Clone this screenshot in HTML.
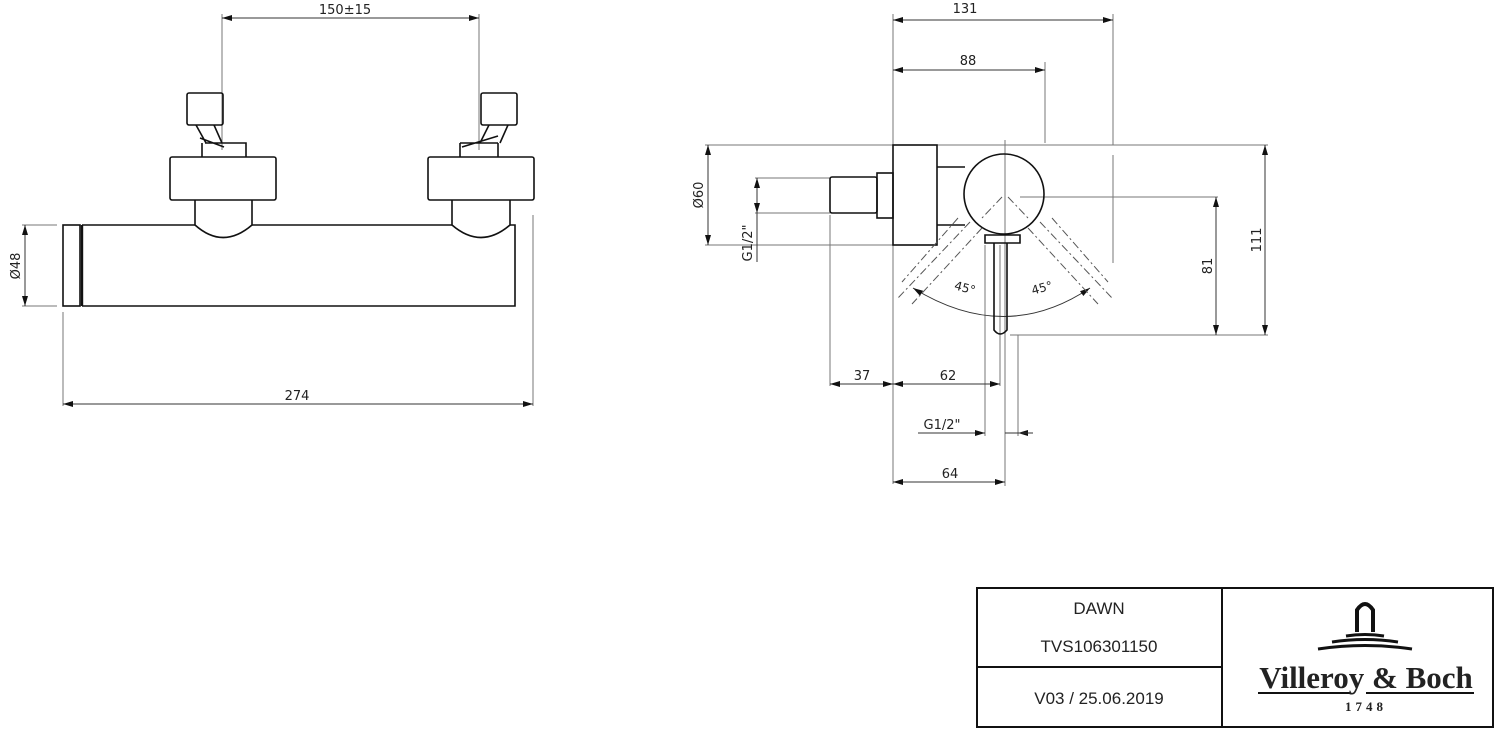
<!DOCTYPE html>
<html><head><meta charset="utf-8"><style>
html,body{margin:0;padding:0;background:#fff;}
svg{display:block;}
text{font-family:"DejaVu Sans","Liberation Sans",sans-serif;fill:#222;}
</style></head><body>
<svg width="1500" height="735" viewBox="0 0 1500 735" xmlns="http://www.w3.org/2000/svg">
<defs>
<marker id="a" viewBox="0 0 10 6" refX="10" refY="3" markerWidth="12" markerHeight="6" orient="auto-start-reverse" markerUnits="userSpaceOnUse"><path d="M0,0L10,3L0,6z" fill="#111"/></marker>
</defs>
<g stroke="#333" stroke-width="1" fill="none">
<line x1="222" y1="14" x2="222" y2="150" stroke="#777"/>
<line x1="479" y1="14" x2="479" y2="150" stroke="#777"/>
<line x1="222" y1="18" x2="479" y2="18" marker-start="url(#a)" marker-end="url(#a)"/>
<line x1="22" y1="225" x2="57" y2="225" stroke="#777"/>
<line x1="22" y1="306" x2="57" y2="306" stroke="#777"/>
<line x1="25" y1="225" x2="25" y2="306" marker-start="url(#a)" marker-end="url(#a)"/>
<line x1="63" y1="312" x2="63" y2="406" stroke="#777"/>
<line x1="533" y1="215" x2="533" y2="406" stroke="#777"/>
<line x1="63" y1="404" x2="533" y2="404" marker-start="url(#a)" marker-end="url(#a)"/>
</g>
<g stroke="#111" stroke-width="1.6" fill="none">
<rect x="63" y="225" width="17" height="81"/>
<line x1="82" y1="225" x2="82" y2="306" stroke-width="2.4"/>
<path d="M82,225H195M252,225H452M510,225H515V306H82"/>
<rect x="187" y="93" width="36" height="32" rx="2"/>
<path d="M196,125L206,143M214,125L222,143M200,138L224,147M205,143H246V157M202,157V143"/>
<rect x="170" y="157" width="106" height="43" rx="2"/>
<path d="M195,200V225Q223,250 252,225V200"/>
<rect x="481" y="93" width="36" height="32" rx="2"/>
<path d="M489,125L480,143M508,125L500,143M498,136L462,147M460,143V157M498,143V157M460,143H498"/>
<rect x="428" y="157" width="106" height="43" rx="2"/>
<path d="M452,200V225Q481,250 510,225V200"/>
</g>
<text x="345" y="14" font-size="13" text-anchor="middle">150±15</text>
<text x="297" y="400" font-size="13" text-anchor="middle">274</text>
<text transform="translate(20,266) rotate(-90)" font-size="13" text-anchor="middle">Ø48</text>

<g stroke="#777" stroke-width="1" fill="none">
<line x1="893" y1="14" x2="893" y2="484"/>
<line x1="1045" y1="62" x2="1045" y2="143"/>
<line x1="1113" y1="14" x2="1113" y2="145"/>
<line x1="1113" y1="155" x2="1113" y2="263"/>
<line x1="705" y1="145" x2="1268" y2="145"/>
<line x1="705" y1="245" x2="893" y2="245"/>
<line x1="755" y1="178" x2="830" y2="178"/>
<line x1="755" y1="213" x2="830" y2="213"/>
<line x1="830" y1="215" x2="830" y2="386"/>
<line x1="1000" y1="245" x2="1000" y2="386"/>
<line x1="985" y1="245" x2="985" y2="436"/>
<line x1="1018" y1="335" x2="1018" y2="436"/>
<line x1="1005" y1="140" x2="1005" y2="486"/>
<line x1="1020" y1="197" x2="1218" y2="197"/>
<line x1="1010" y1="335" x2="1268" y2="335"/>
</g>
<g stroke="#333" stroke-width="1" fill="none">
<line x1="893" y1="20" x2="1113" y2="20" marker-start="url(#a)" marker-end="url(#a)"/>
<line x1="893" y1="70" x2="1045" y2="70" marker-start="url(#a)" marker-end="url(#a)"/>
<line x1="708" y1="145" x2="708" y2="245" marker-start="url(#a)" marker-end="url(#a)"/>
<line x1="757" y1="178" x2="757" y2="213" marker-start="url(#a)" marker-end="url(#a)"/>
<line x1="757" y1="213" x2="757" y2="262"/>
<line x1="1216" y1="197" x2="1216" y2="335" marker-start="url(#a)" marker-end="url(#a)"/>
<line x1="1265" y1="145" x2="1265" y2="335" marker-start="url(#a)" marker-end="url(#a)"/>
<line x1="830" y1="384" x2="893" y2="384" marker-start="url(#a)" marker-end="url(#a)"/>
<line x1="893" y1="384" x2="1000" y2="384" marker-start="url(#a)" marker-end="url(#a)"/>
<line x1="918" y1="433" x2="985" y2="433"/>
<line x1="970" y1="433" x2="985" y2="433" marker-end="url(#a)"/>
<line x1="1033" y1="433" x2="1018" y2="433" marker-end="url(#a)"/>
<line x1="1005" y1="433" x2="1033" y2="433"/>
<line x1="893" y1="482" x2="1005" y2="482" marker-start="url(#a)" marker-end="url(#a)"/>
<path d="M913,288 Q1005,345 1090,288" marker-start="url(#a)" marker-end="url(#a)"/>
</g>
<g stroke="#111" stroke-width="1.6" fill="none">
<rect x="893" y="145" width="44" height="100"/>
<rect x="877" y="173" width="16" height="45"/>
<rect x="830" y="177" width="47" height="36" rx="2"/>
<path d="M937,167H965M937,225H965"/>
<circle cx="1004" cy="194" r="40"/>
<path d="M985,235H1020V243H985Z"/>
<path d="M994,243V330Q1000,338 1007,330V243"/>
</g>
<g stroke="#555" stroke-width="1" fill="none" stroke-dasharray="8,3,2,3">
<path d="M970,222L898,298M982,228L912,304M958,218L902,282M1002,197L982,218"/>
<path d="M1040,222L1112,298M1028,228L1098,304M1052,218L1108,282M1008,197L1028,218"/>
</g>
<text x="965" y="13" font-size="13" text-anchor="middle">131</text>
<text x="968" y="65" font-size="13" text-anchor="middle">88</text>
<text transform="translate(703,195) rotate(-90)" font-size="13" text-anchor="middle">Ø60</text>
<text transform="translate(752,243) rotate(-90)" font-size="13" text-anchor="middle">G1/2"</text>
<text transform="translate(1212,266) rotate(-90)" font-size="13" text-anchor="middle">81</text>
<text transform="translate(1261,240) rotate(-90)" font-size="13" text-anchor="middle">111</text>
<text x="965" y="292" font-size="12" text-anchor="middle" transform="rotate(15,965,288)">45°</text>
<text x="1042" y="292" font-size="12" text-anchor="middle" transform="rotate(-15,1042,288)">45°</text>
<text x="862" y="380" font-size="13" text-anchor="middle">37</text>
<text x="948" y="380" font-size="13" text-anchor="middle">62</text>
<text x="942" y="429" font-size="13" text-anchor="middle">G1/2"</text>
<text x="950" y="478" font-size="13" text-anchor="middle">64</text>

<g stroke="#111" stroke-width="2" fill="none">
<rect x="977" y="588" width="516" height="139"/>
<line x1="1222" y1="588" x2="1222" y2="727"/>
<line x1="977" y1="667" x2="1222" y2="667"/>
</g>
<text x="1099" y="614" font-size="17" text-anchor="middle" style="font-family:'Liberation Sans',sans-serif">DAWN</text>
<text x="1099" y="652" font-size="17" text-anchor="middle" style="font-family:'Liberation Sans',sans-serif">TVS106301150</text>
<text x="1099" y="704" font-size="17" text-anchor="middle" style="font-family:'Liberation Sans',sans-serif">V03 / 25.06.2019</text>
<g stroke="#111" fill="none">
<path d="M1357,632V610Q1365,598 1373,610V632" stroke-width="4"/>
<path d="M1346,636Q1365,633 1384,636" stroke-width="3"/>
<path d="M1332,642Q1365,637 1398,642" stroke-width="3"/>
<path d="M1318,649Q1365,642 1412,649" stroke-width="3"/>
<line x1="1258" y1="693" x2="1350" y2="693" stroke-width="2"/>
<line x1="1366" y1="693" x2="1474" y2="693" stroke-width="2"/>
</g>
<text x="1366" y="688" font-size="31" font-weight="bold" text-anchor="middle" style="font-family:'Liberation Serif',serif">Villeroy &amp; Boch</text>
<text x="1366" y="711" font-size="13" font-weight="bold" text-anchor="middle" letter-spacing="4" style="font-family:'Liberation Serif',serif">1748</text>
</svg>
</body></html>
